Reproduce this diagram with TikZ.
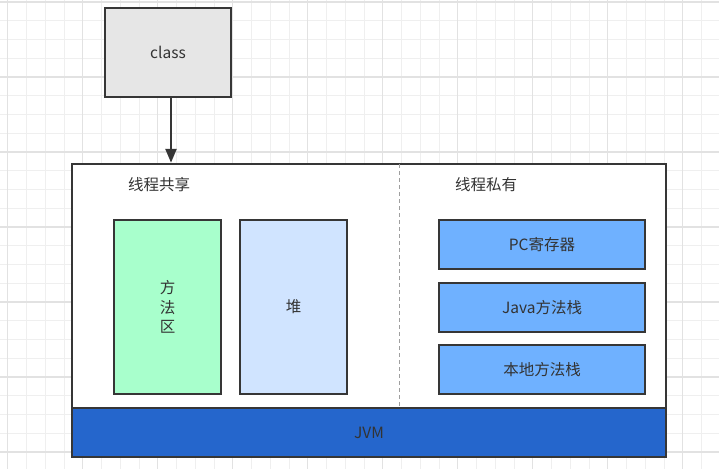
\documentclass[tikz,border=0pt]{standalone}
\usepackage{fontspec}
\setmainfont{Noto Sans CJK SC}
\usetikzlibrary{arrows.meta}
\definecolor{txt}{HTML}{333333}
\definecolor{edge}{HTML}{363636}
\definecolor{gridminor}{HTML}{EFEFEF}
\definecolor{gridmajor}{HTML}{E2E2E2}
\definecolor{classfill}{HTML}{E6E6E6}
\definecolor{methodfill}{HTML}{A8FFCC}
\definecolor{heapfill}{HTML}{D0E4FF}
\definecolor{privfill}{HTML}{6FB1FF}
\definecolor{jvmfill}{HTML}{2566CC}
\tikzset{
  box/.style={draw=edge, line width=2.5pt, inner sep=0pt, text=txt, font=\fontsize{15.5}{19.5}\selectfont, align=center},
  label/.style={text=txt, font=\fontsize{15.5}{19.5}\selectfont, inner sep=0pt},
  gminor/.style={gridminor, line width=0.9pt},
  gmajor/.style={gridmajor, line width=1.1pt},
}
\begin{document}
\begin{tikzpicture}[x=1pt,y=-1pt]
\useasboundingbox (0,0) rectangle (719,469);
\fill[white] (0,0) rectangle (719,469);
% grid
\foreach \i in {-1,...,38} {
  \draw[gminor] ({7.7+\i*18.75},0) -- ({7.7+\i*18.75},469);
}
\foreach \i in {-1,...,25} {
  \draw[gminor] (0,{2+\i*18.75}) -- (719,{2+\i*18.75});
}
\foreach \i in {0,...,9} {
  \draw[gmajor] ({7.7+\i*75},0) -- ({7.7+\i*75},469);
}
\foreach \i in {0,...,6} {
  \draw[gmajor] (0,{2+\i*75}) -- (719,{2+\i*75});
}
% nodes
\node[box, fill=classfill, minimum width=126pt, minimum height=89pt] (class) at (168,52.5) {class};
\node[box, fill=white, minimum width=594pt, minimum height=293pt] (outer) at (369,310.5) {};
\node[box, fill=jvmfill, minimum width=594pt, minimum height=49pt] (jvm) at (369,432.5) {JVM};
\coordinate (dtop) at (399,164);
\coordinate (dbot) at (399,408);
\draw[gray!75, line width=1pt, dash pattern=on 4pt off 3pt] (dtop) -- (dbot);
\node[label] (shared) at (159,185) {线程共享};
\node[label] (private) at (486,185) {线程私有};
\node[box, fill=methodfill, minimum width=107pt, minimum height=174pt] (method) at (167.5,307) {方\\法\\区};
\node[box, fill=heapfill, minimum width=107pt, minimum height=174pt] (heap) at (293.5,307) {堆};
\node[box, fill=privfill, minimum width=206pt, minimum height=49pt] (pc) at (542,244.5) {PC寄存器};
\node[box, fill=privfill, minimum width=206pt, minimum height=49pt] (jstack) at (542,307.5) {Java方法栈};
\node[box, fill=privfill, minimum width=206pt, minimum height=49pt] (nstack) at (542,369.5) {本地方法栈};
% arrow
\draw[edge, line width=2.5pt, -{Triangle[length=14pt,width=11pt]}] ([xshift=3pt]class.south) -- ([xshift=3pt]class.south |- outer.north);
\end{tikzpicture}
\end{document}
